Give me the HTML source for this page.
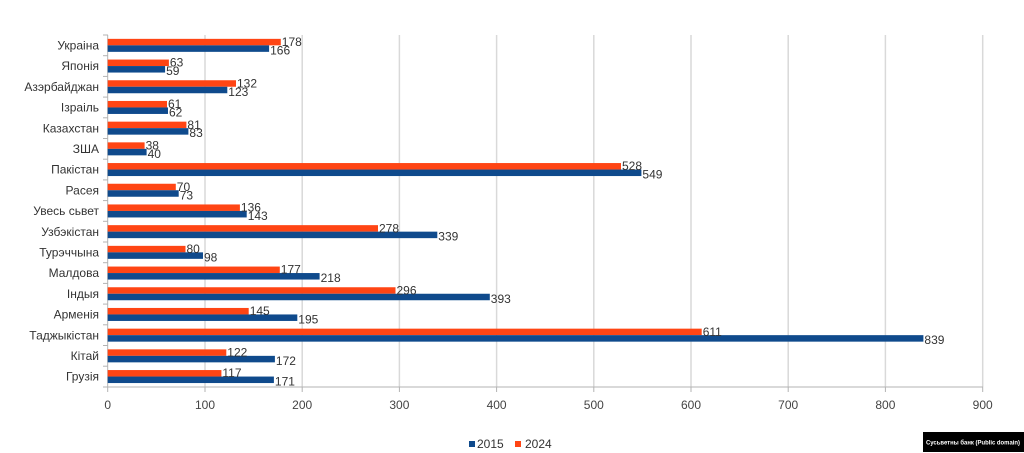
<!DOCTYPE html>
<html><head><meta charset="utf-8"><style>
html,body{margin:0;padding:0;background:#fff;width:1024px;height:453px;overflow:hidden}
svg{display:block;font-family:"Liberation Sans",sans-serif}
</style></head><body>
<svg width="1024" height="453" viewBox="0 0 1024 453">
<g stroke="#d9d9d9" stroke-width="1.5">
<line x1="205" y1="35" x2="205" y2="387"/><line x1="302.2" y1="35" x2="302.2" y2="387"/><line x1="399.4" y1="35" x2="399.4" y2="387"/><line x1="496.6" y1="35" x2="496.6" y2="387"/><line x1="593.8" y1="35" x2="593.8" y2="387"/><line x1="691" y1="35" x2="691" y2="387"/><line x1="788.2" y1="35" x2="788.2" y2="387"/><line x1="885.4" y1="35" x2="885.4" y2="387"/><line x1="982.7" y1="35" x2="982.7" y2="387"/>
</g>
<g stroke="#b3b3b3" stroke-width="1">
<line x1="107.7" y1="35" x2="107.7" y2="387"/><line x1="103" y1="387" x2="983" y2="387"/>
<line x1="103" y1="35" x2="108" y2="35"/><line x1="103" y1="55.7" x2="108" y2="55.7"/><line x1="103" y1="76.4" x2="108" y2="76.4"/><line x1="103" y1="97.1" x2="108" y2="97.1"/><line x1="103" y1="117.8" x2="108" y2="117.8"/><line x1="103" y1="138.5" x2="108" y2="138.5"/><line x1="103" y1="159.2" x2="108" y2="159.2"/><line x1="103" y1="179.9" x2="108" y2="179.9"/><line x1="103" y1="200.6" x2="108" y2="200.6"/><line x1="103" y1="221.3" x2="108" y2="221.3"/><line x1="103" y1="242" x2="108" y2="242"/><line x1="103" y1="262.7" x2="108" y2="262.7"/><line x1="103" y1="283.4" x2="108" y2="283.4"/><line x1="103" y1="304.1" x2="108" y2="304.1"/><line x1="103" y1="324.8" x2="108" y2="324.8"/><line x1="103" y1="345.5" x2="108" y2="345.5"/><line x1="103" y1="366.2" x2="108" y2="366.2"/>
<line x1="107.7" y1="387" x2="107.7" y2="392"/><line x1="205" y1="387" x2="205" y2="392"/><line x1="302.2" y1="387" x2="302.2" y2="392"/><line x1="399.4" y1="387" x2="399.4" y2="392"/><line x1="496.6" y1="387" x2="496.6" y2="392"/><line x1="593.8" y1="387" x2="593.8" y2="392"/><line x1="691" y1="387" x2="691" y2="392"/><line x1="788.2" y1="387" x2="788.2" y2="392"/><line x1="885.4" y1="387" x2="885.4" y2="392"/><line x1="982.7" y1="387" x2="982.7" y2="392"/>
</g>
<g font-size="12" fill="#444" text-anchor="middle">
<text x="107.7" y="409">0</text><text x="205" y="409">100</text><text x="302.2" y="409">200</text><text x="399.4" y="409">300</text><text x="496.6" y="409">400</text><text x="593.8" y="409">500</text><text x="691" y="409">600</text><text x="788.2" y="409">700</text><text x="885.4" y="409">800</text><text x="982.7" y="409">900</text>
</g>
<g font-size="12" fill="#333" text-anchor="end">
<text x="99" y="49.5">Украіна</text><text x="99" y="70.2">Японія</text><text x="99" y="90.9">Азэрбайджан</text><text x="99" y="111.6">Ізраіль</text><text x="99" y="132.3">Казахстан</text><text x="99" y="153">ЗША</text><text x="99" y="173.7">Пакістан</text><text x="99" y="194.4">Расея</text><text x="99" y="215.1">Увесь сьвет</text><text x="99" y="235.8">Узбэкістан</text><text x="99" y="256.5">Турэччына</text><text x="99" y="277.2">Малдова</text><text x="99" y="297.9">Індыя</text><text x="99" y="318.6">Арменія</text><text x="99" y="339.3">Таджыкістан</text><text x="99" y="360">Кітай</text><text x="99" y="380.7">Грузія</text>
</g>
<g fill="#ff4514">
<rect x="107.7" y="38.85" width="173.1" height="6.5"/><rect x="107.7" y="59.55" width="61.2" height="6.5"/><rect x="107.7" y="80.25" width="128.3" height="6.5"/><rect x="107.7" y="100.95" width="59.3" height="6.5"/><rect x="107.7" y="121.65" width="78.7" height="6.5"/><rect x="107.7" y="142.35" width="36.9" height="6.5"/><rect x="107.7" y="163.05" width="513.3" height="6.5"/><rect x="107.7" y="183.75" width="68.1" height="6.5"/><rect x="107.7" y="204.45" width="132.2" height="6.5"/><rect x="107.7" y="225.15" width="270.3" height="6.5"/><rect x="107.7" y="245.85" width="77.8" height="6.5"/><rect x="107.7" y="266.55" width="172.1" height="6.5"/><rect x="107.7" y="287.25" width="287.8" height="6.5"/><rect x="107.7" y="307.95" width="141" height="6.5"/><rect x="107.7" y="328.65" width="594" height="6.5"/><rect x="107.7" y="349.35" width="118.6" height="6.5"/><rect x="107.7" y="370.05" width="113.7" height="6.5"/>
</g>
<g fill="#0f4a8c">
<rect x="107.7" y="45.35" width="161.4" height="6.5"/><rect x="107.7" y="66.05" width="57.4" height="6.5"/><rect x="107.7" y="86.75" width="119.6" height="6.5"/><rect x="107.7" y="107.45" width="60.3" height="6.5"/><rect x="107.7" y="128.15" width="80.7" height="6.5"/><rect x="107.7" y="148.85" width="38.9" height="6.5"/><rect x="107.7" y="169.55" width="533.7" height="6.5"/><rect x="107.7" y="190.25" width="71" height="6.5"/><rect x="107.7" y="210.95" width="139" height="6.5"/><rect x="107.7" y="231.65" width="329.6" height="6.5"/><rect x="107.7" y="252.35" width="95.3" height="6.5"/><rect x="107.7" y="273.05" width="211.9" height="6.5"/><rect x="107.7" y="293.75" width="382.1" height="6.5"/><rect x="107.7" y="314.45" width="189.6" height="6.5"/><rect x="107.7" y="335.15" width="815.7" height="6.5"/><rect x="107.7" y="355.85" width="167.2" height="6.5"/><rect x="107.7" y="376.55" width="166.2" height="6.5"/>
</g>
<g font-size="12" fill="#333">
<text x="281.8" y="46">178</text><text x="169.9" y="66.7">63</text><text x="237" y="87.4">132</text><text x="168" y="108.1">61</text><text x="187.4" y="128.8">81</text><text x="145.6" y="149.5">38</text><text x="622" y="170.2">528</text><text x="176.8" y="190.9">70</text><text x="240.9" y="211.6">136</text><text x="379" y="232.3">278</text><text x="186.5" y="253">80</text><text x="280.8" y="273.7">177</text><text x="396.5" y="294.4">296</text><text x="249.7" y="315.1">145</text><text x="702.7" y="335.8">611</text><text x="227.3" y="356.5">122</text><text x="222.4" y="377.2">117</text>
<text x="270.1" y="54.4">166</text><text x="166.1" y="75.1">59</text><text x="228.3" y="95.8">123</text><text x="169" y="116.5">62</text><text x="189.4" y="137.2">83</text><text x="147.6" y="157.9">40</text><text x="642.4" y="178.6">549</text><text x="179.7" y="199.3">73</text><text x="247.7" y="220">143</text><text x="438.3" y="240.7">339</text><text x="204" y="261.4">98</text><text x="320.6" y="282.1">218</text><text x="490.8" y="302.8">393</text><text x="298.3" y="323.5">195</text><text x="924.4" y="344.2">839</text><text x="275.9" y="364.9">172</text><text x="274.9" y="385.6">171</text>
</g>
<rect x="469" y="441" width="6" height="6" fill="#0f4a8c"/>
<text x="477" y="448" font-size="12" fill="#333">2015</text>
<rect x="515" y="441" width="6" height="6" fill="#ff4514"/>
<text x="525" y="448" font-size="12" fill="#333">2024</text>
<rect x="923" y="432" width="101" height="20" fill="#000"/>
<text x="926" y="444.5" font-size="6.5" font-weight="bold" fill="#fff" textLength="94" lengthAdjust="spacingAndGlyphs">Сусьветны банк (Public domain)</text>
</svg>
</body></html>
